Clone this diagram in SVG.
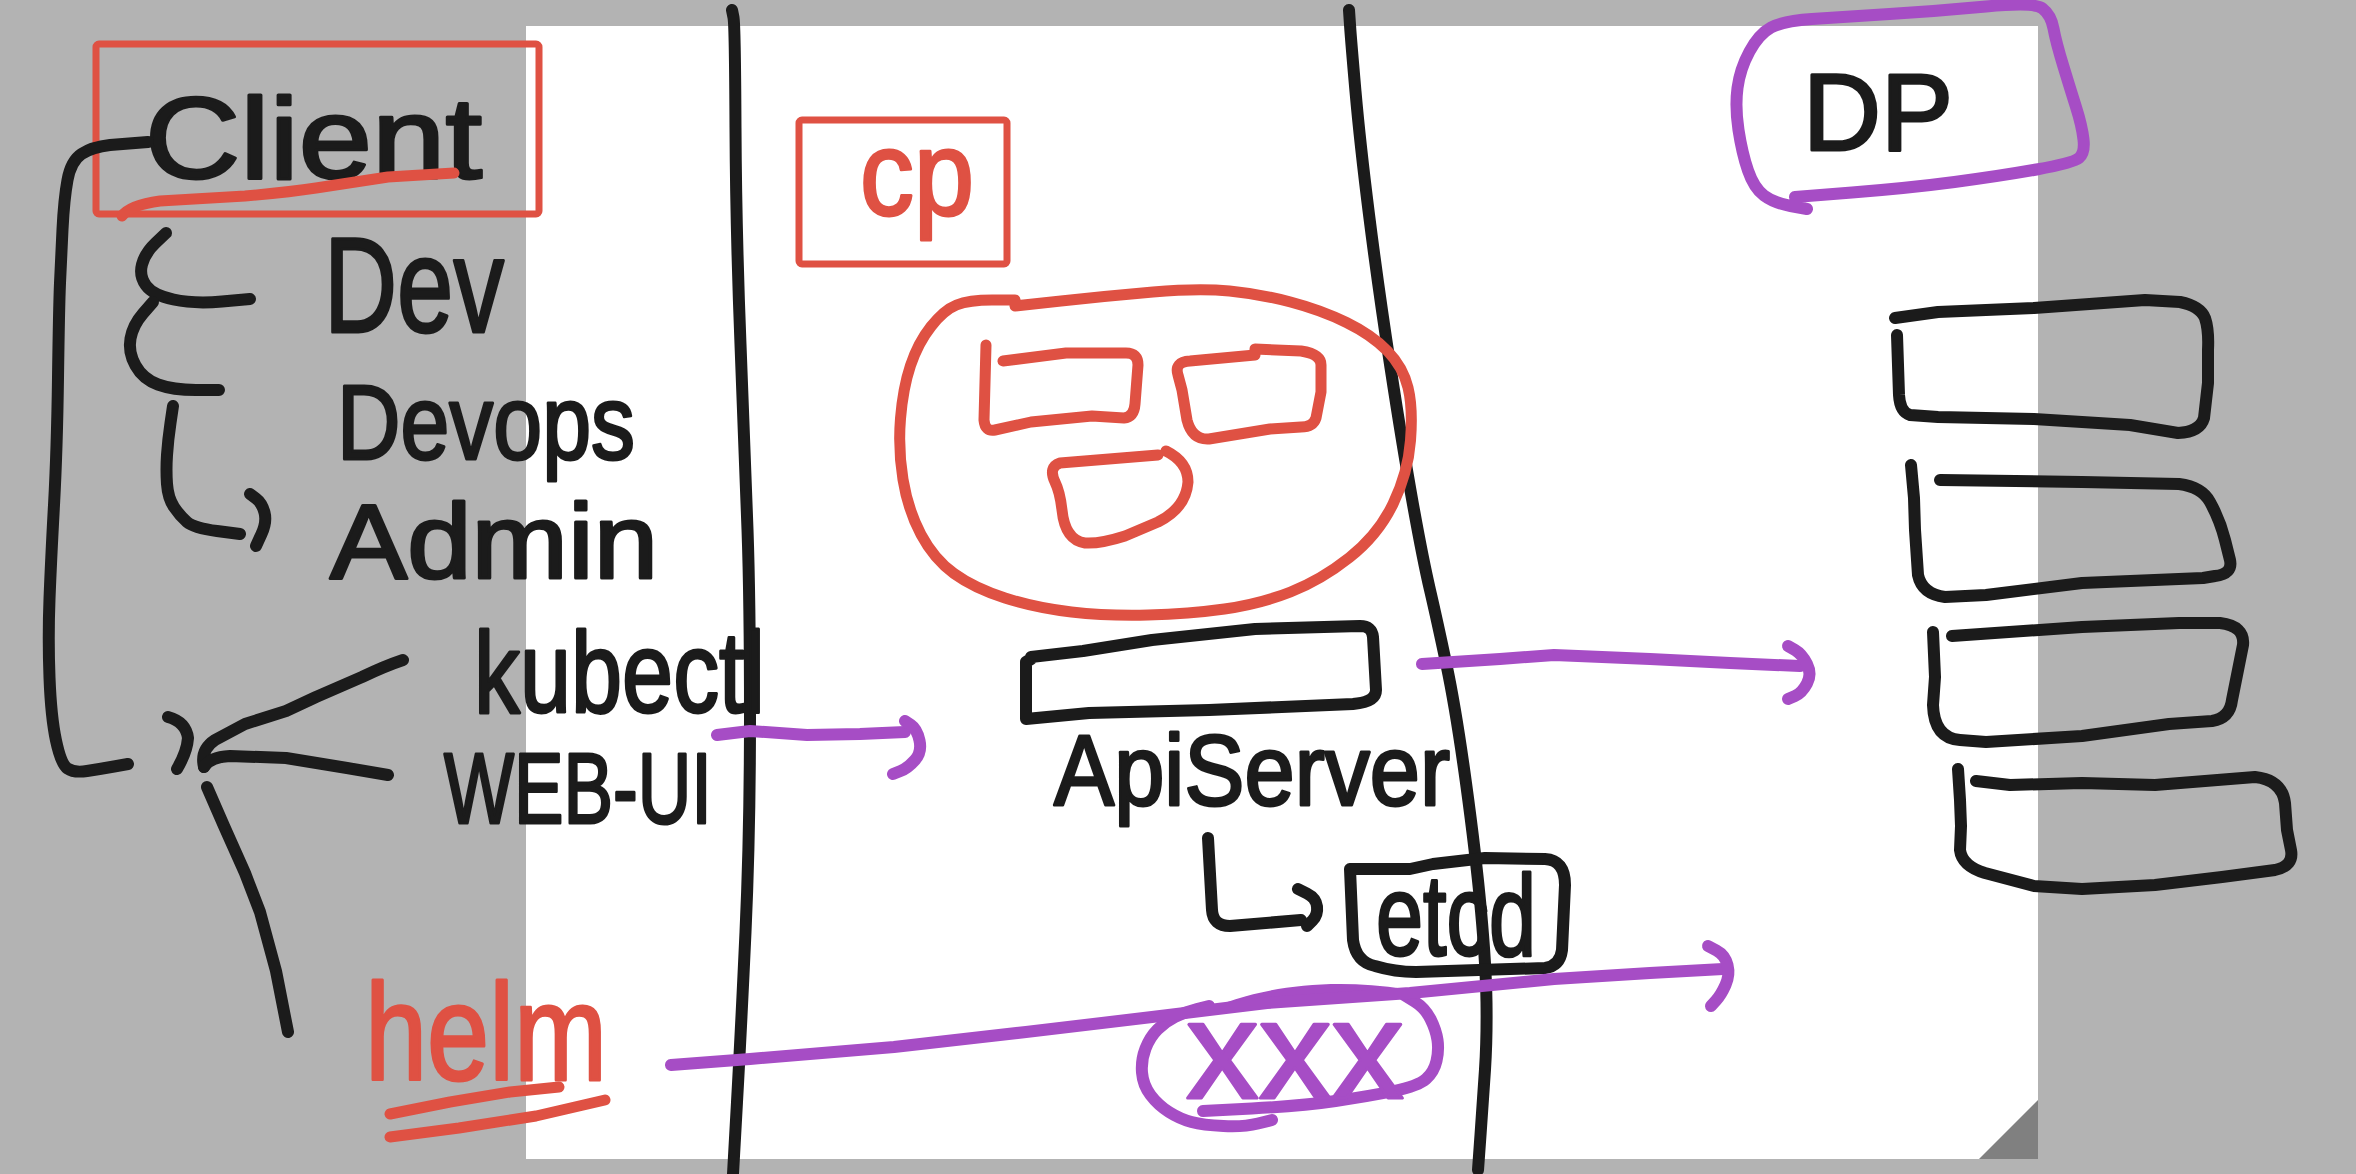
<svg xmlns="http://www.w3.org/2000/svg" width="2356" height="1174" viewBox="0 0 2356 1174">
<style>
.k{fill:none;stroke:#1b1b1b;stroke-width:12;stroke-linecap:round;stroke-linejoin:round}
.r{fill:none;stroke:#df5143;stroke-width:11;stroke-linecap:round;stroke-linejoin:round}
.p{fill:none;stroke:#a64dc5;stroke-width:12;stroke-linecap:round;stroke-linejoin:round}
.box{fill:none;stroke:#df5143;stroke-width:7;stroke-linejoin:round}
.t,.tr,.tp{font-family:"Liberation Sans","DejaVu Sans",sans-serif;stroke-width:3;stroke-linejoin:round}
.t{fill:#1b1b1b;stroke:#1b1b1b}
.tr{fill:#df5143;stroke:#df5143}
.tp{fill:#a64dc5;stroke:#a64dc5}
</style>
<rect width="2356" height="1174" fill="#b3b3b3"/>
<rect x="526" y="26" width="1512" height="1133" fill="#ffffff"/>
<polygon points="1979,1159 2038,1100 2038,1159" fill="#808080"/>

<g id="lanes">
<path class="k" d="M732,10 L733.5,17.5 Q735,25 735.5,127.5 Q736,230 740.5,344.5 Q745,459 747.5,529.5 Q750,600 750,717 Q750,834 745.5,932 Q741,1030 737,1102 L733,1174"/>
<path class="k" d="M1349,10 L1350,25 Q1351,40 1355.5,91.5 Q1360,143 1369,214.5 Q1378,286 1390.5,367.5 Q1403,449 1413,504.5 Q1423,560 1430,590 Q1437,620 1446.5,665 Q1456,710 1466,783 Q1476,856 1481,911 Q1486,966 1486.5,1002.5 Q1487,1039 1485,1069.5 Q1483,1100 1480.5,1135 L1478,1170"/>
</g>

<g id="client">
<rect class="box" x="96" y="44" width="443" height="170" rx="3"/>
<text class="t" x="145" y="178" font-size="115" textLength="337" lengthAdjust="spacingAndGlyphs">Client</text>
<path class="r" d="M122,216 Q130,205 160,201 L245,196 Q290,192 316,188 Q355,182 388,177 L454,173"/>
</g>

<g id="dev"><text class="t" x="324" y="332" font-size="135" textLength="180" lengthAdjust="spacingAndGlyphs">Dev</text></g>
<g id="devops"><text class="t" x="337" y="459" font-size="105" textLength="298" lengthAdjust="spacingAndGlyphs">Devops</text></g>
<g id="admin"><text class="t" x="330" y="578" font-size="105" textLength="328" lengthAdjust="spacingAndGlyphs">Admin</text></g>
<g id="kubectl"><text class="t" x="474" y="712" font-size="115" textLength="291" lengthAdjust="spacingAndGlyphs">kubectl</text></g>
<g id="webui"><text class="t" x="444" y="823" font-size="100" textLength="268" lengthAdjust="spacingAndGlyphs">WEB-UI</text></g>
<g id="helm">
<text class="tr" x="365" y="1080" font-size="137" textLength="242" lengthAdjust="spacingAndGlyphs">helm</text>
<path class="r" d="M390,1114 L450,1102 L510,1092 L559,1087"/>
<path class="r" d="M390,1137 L459,1128 L536,1116 L605,1100"/>
</g>

<g id="cp">
<rect class="box" x="799" y="120" width="208" height="144" rx="3"/>
<text class="tr" x="860" y="215" font-size="120" textLength="114" lengthAdjust="spacingAndGlyphs">cp</text>
</g>

<g id="cp-components">
<path class="r" d="M1015,300 L992,300 Q969,300 956.5,305 Q944,310 931,326.5 Q918,343 910.5,365.5 Q903,388 900.5,418.5 Q898,449 903,479.5 Q908,510 921,534.5 Q934,559 954,573.5 Q974,588 1005,598 Q1036,608 1071.5,612 Q1107,616 1148,615 Q1189,614 1224.5,609 Q1260,604 1290.5,592 Q1321,580 1349.5,557.5 Q1378,535 1393,504 Q1408,473 1410.5,440.5 Q1413,408 1408,387.5 Q1403,367 1387.5,351 Q1372,335 1346.5,322.5 Q1321,310 1290.5,302 Q1260,294 1229.5,291 Q1199,288 1153,292 Q1107,296 1061,301 L1015,306"/>
<path class="r" d="M986,345 L984,420 Q985,432 995,430 L1031,422 L1092,416 L1124,418 Q1134,417 1135,404 L1138,365 Q1138,353 1126,353 L1066,353 L1003,361"/>
<path class="r" d="M1255,349 L1301,351 Q1321,354 1321,365 L1321,392 L1316,418 Q1313,427 1301,427 L1270,429 L1209,439 Q1192,440 1187,420 L1182,390 L1178,375 Q1174,362 1190,361 L1255,355 Z"/>
<path class="r" d="M1158,455 L1060,463 Q1048,467 1055,482 Q1060,492 1062,510 Q1065,540 1085,543 Q1100,544 1125,536 L1158,522 Q1186,508 1188,482 Q1188,462 1166,451"/>
</g>

<g id="apiserver">
<path class="k" d="M1031,659 L1026,662 L1026,719 L1089,713 L1209,710 L1353,704 Q1376,702 1376,690 L1373,637 Q1372,626 1360,626 L1255,629 L1152,640 L1083,651 L1031,657"/>
<text class="t" x="1054" y="805" font-size="100" textLength="396" lengthAdjust="spacingAndGlyphs">ApiServer</text>
</g>

<g id="etcd">
<path class="k" d="M1350,869 L1353,940 Q1356,962 1375,966 Q1395,972 1416,972 L1545,968 Q1560,966 1562,950 L1565,885 Q1565,860 1545,859 L1485,858 L1433,864 L1410,869 L1350,869"/>
<text class="t" x="1376" y="955" font-size="115" textLength="160" lengthAdjust="spacingAndGlyphs">etcd</text>
</g>

<g id="xxx">
<path d="M1205,1011 C1250,990 1320,976 1405,989 L1405,996 C1340,1000 1270,1005 1205,1013 Z" fill="#a64dc5"/>
<path class="p" d="M1404,995 L1414.5,1001.5 Q1425,1008 1430.5,1019 Q1436,1030 1437.5,1040 Q1439,1050 1436.5,1061 Q1434,1072 1426,1079 Q1418,1086 1394,1091 Q1370,1096 1335.5,1101 Q1301,1106 1252,1108.5 L1203,1111"/>
<path class="p" d="M1209,1006 L1197,1009 Q1185,1012 1175,1017 Q1165,1022 1157.5,1029.5 Q1150,1037 1145.5,1048.5 Q1141,1060 1142,1072.5 Q1143,1085 1150.5,1095 Q1158,1105 1169,1112 Q1180,1119 1191.5,1122 Q1203,1125 1223.5,1126 Q1244,1127 1258,1123.5 L1272,1120"/>
<text class="tp" x="1186" y="1098" font-size="140" textLength="218" lengthAdjust="spacingAndGlyphs">xxx</text>
</g>

<g id="dp">
<path class="p" d="M1807,209 L1790.5,206 Q1774,203 1764,195.5 Q1754,188 1748,170.5 Q1742,153 1738.5,130 Q1735,107 1737.5,88 Q1740,69 1749.5,51.5 Q1759,34 1771,27.5 Q1783,21 1812,19 Q1841,17 1889.5,14 Q1938,11 1986,6.5 Q2034,2 2042.5,8.5 Q2051,15 2053.5,28.5 Q2056,42 2063,65 Q2070,88 2076,107 Q2082,126 2083.5,139.5 Q2085,153 2079,158 Q2073,163 2036.5,169.5 Q2000,176 1954.5,182 Q1909,188 1852,192.5 L1795,197"/>
<text class="t" x="1803" y="150" font-size="110" textLength="150" lengthAdjust="spacingAndGlyphs">DP</text>
</g>

<g id="dp-node-1"><path class="k" d="M1895,318 L1938,312 L2034,308 L2145,300 L2180,302 Q2200,306 2205,318 Q2209,330 2208,350 L2208,383 L2204,418 Q2200,432 2178,433 L2130,425 L2034,419 L1938,417 L1910,415 Q1900,412 1899,395 L1897,335"/></g>
<g id="dp-node-2"><path class="k" d="M1940,480 L2082,482 L2179,484 Q2202,487 2210,502 Q2220,520 2225,540 L2230,560 Q2233,574 2215,576 L2203,578 L2082,583 L1986,595 L1945,597 Q1922,594 1918,575 L1915,530 L1914,498 L1911,465"/></g>
<g id="dp-node-3"><path class="k" d="M1933,632 L1935,677 L1933,705 Q1934,738 1960,740 L1986,742 L2082,736 L2169,724 L2212,721 Q2230,718 2232,700 L2240,660 L2243,645 Q2245,626 2220,623 L2179,623 L2082,627 L1952,636"/></g>
<g id="dp-node-4"><path class="k" d="M1958,769 L1960,800 L1961,826 L1960,850 Q1962,866 1985,873 L2034,886 L2082,889 L2155,885 L2222,877 L2275,870 Q2294,866 2291,850 L2287,830 L2285,803 Q2282,780 2255,777 L2155,785 L2082,783 L2010,785 L1976,781"/></g>

<g id="connectors">
<path class="k" d="M148,142 L110,145 Q92,147 81.5,154 Q71,161 67.5,180 Q64,199 62.5,229.5 Q61,260 60,283 Q59,306 58,378 Q57,450 54,505 Q51,560 49.5,599 Q48,638 49.5,677.5 Q51,717 56,740.5 Q61,764 67.5,768.5 Q74,773 87,771 Q100,769 114,766.5 L128,764"/>
<path class="k" d="M166,233 L155.5,243 Q145,253 142,264.5 Q139,276 146,285.5 Q153,295 173.5,299.5 Q194,304 222,301.5 L250,299"/>
<path class="k" d="M153,302 L143,313.5 Q133,325 130.5,338.5 Q128,352 135.5,365.5 Q143,379 158,384.5 Q173,390 196,390 L219,390"/>
<path class="k" d="M173,406 L170.5,423 Q168,440 167,455 Q166,470 167,484 Q168,498 174,507 Q180,516 187,522 Q194,528 217,531 L240,534"/>
<path class="k" d="M250,494 L256,498.5 Q262,503 264.5,512.5 Q267,522 261.5,534 L256,546"/>
<path class="k" d="M168,717 Q186,722 188,738 Q187,752 177,769"/>
<path class="k" d="M204,767 Q200,750 215,740 L245,724 L286,711 L316,697 L362,677 Q385,666 403,660"/>
<path class="k" d="M204,767 Q210,757 230,756 L286,758 L347,768 L388,775"/>
<path class="k" d="M207,787 L224,826 L245,873 L260,912 L276,971 L288,1032"/>
<path class="k" d="M1208,838 L1212,910 Q1213,926 1230,926 L1301,920"/>
<path class="k" d="M1298,889 L1307,893.5 Q1316,898 1317,906.5 Q1318,915 1312.5,920.5 L1307,926"/>
<path class="p" d="M717,735 L750,731 L807,735 L860,734 L905,732"/>
<path class="p" d="M905,721 L911,725 Q917,729 919.5,740.5 Q922,752 915,760 Q908,768 900.5,771 L893,774"/>
<path class="p" d="M1422,664 L1500,659 L1554,655 L1650,659 L1730,663 L1800,666"/>
<path class="p" d="M1788,646 L1795,650 Q1802,654 1807,664 Q1812,674 1807,683.5 Q1802,693 1795,696 L1788,699"/>
<path class="p" d="M671,1065 L750,1059 L894,1047 L1026,1032 L1152,1017 L1267,1003 L1410,993 L1554,979 L1650,973 L1723,969"/>
<path class="p" d="M1708,946 L1716.5,950.5 Q1725,955 1727.5,965 Q1730,975 1725.5,985 Q1721,995 1716,1000.5 L1711,1006"/>
</g>
</svg>
